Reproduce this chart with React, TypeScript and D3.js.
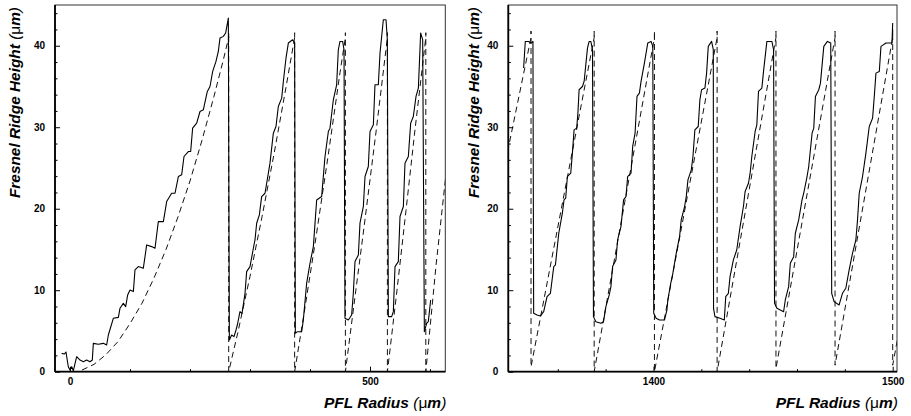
import * as d3 from "d3";
import { useEffect, useRef } from "react";

const leftMeasured: [number, number][] = [
  [-13.9, 2.25], [-9.4, 2.17], [-6.7, 2.42], [-2.8, 0.61], [0, 0.2], [2.8, 0.61], [5.6, 0.12],
  [11.1, 1.84], [16.7, 1.43], [22.2, 1.23], [27.8, 1.43], [33.3, 1.23], [37.2, 1.43], [38.9, 3.48],
  [47.2, 3.36], [55.6, 3.48], [61.1, 3.28], [63.9, 4.5], [72.2, 6.55], [80.6, 6.67], [83.3, 7.78],
  [88.9, 8.39], [92.8, 7.98], [96.1, 9.42], [100, 10.03], [105.6, 9.83], [108.3, 12.49], [113.9, 12.9],
  [122.2, 12.69], [127.8, 15.56], [136.1, 15.35], [141.7, 15.15], [147.2, 18.42], [155.6, 18.42],
  [161.1, 20.88], [169.4, 21.9], [175, 21.9], [180.6, 23.95], [186.1, 24.16], [190, 26.41],
  [197.2, 27.02], [201.1, 27.02], [204.4, 29.89], [211.1, 30.5], [216.7, 31.93], [222.2, 32.14],
  [228.9, 34.39], [233.3, 35.0], [237.8, 36.85], [243.3, 38.08], [247.2, 39.3], [250, 40.94],
  [255.6, 41.15], [259.4, 41.56], [263.9, 43.4], [265.6, 3.89],
  [269.4, 4.5], [273.3, 4.3], [276.7, 5.12], [278.9, 5.73], [283.3, 7.37], [286.7, 7.16], [291.7, 9.62],
  [294.4, 12.28], [300, 12.9], [305.6, 15.15], [308.3, 16.17], [311.1, 18.22], [315.6, 19.24],
  [319.4, 21.49], [325, 21.9], [330.6, 24.36], [333.3, 25.59], [338.9, 29.27], [343.3, 30.09],
  [347.2, 32.55], [352.8, 33.57], [355.6, 35.62], [360, 38.49], [363.9, 40.33], [371.1, 40.74],
  [374.4, 40.33], [375.6, 4.71],
  [378.9, 4.91], [386.1, 4.91], [388.9, 6.35], [394.4, 10.85], [400, 13.31], [405.6, 15.35],
  [411.1, 21.08], [419.4, 21.49], [425, 26.41], [430.6, 29.48], [433.3, 29.89], [438.9, 33.37],
  [444.4, 35.21], [447.2, 39.51], [450, 40.53], [454.4, 40.53], [456.7, 39.51], [458.3, 6.55],
  [463.9, 6.35], [469.4, 6.96], [472.2, 9.62], [475, 13.51], [480.6, 14.33], [483.3, 18.22],
  [488.9, 20.27], [491.7, 23.95], [497.2, 25.18], [500, 29.48], [505.6, 30.3], [508.3, 35.21],
  [513.9, 35.21], [516.7, 39.1], [522.2, 43.19], [526.7, 43.19], [528.9, 40.74], [530.6, 6.76],
  [536.1, 6.76], [538.9, 7.37], [541.7, 12.9], [547.2, 13.51], [550, 19.04], [555.6, 20.27],
  [558.3, 25.59], [563.9, 26.41], [567.8, 30.5], [572.2, 31.32], [576.7, 33.78], [580.6, 34.8],
  [584.4, 41.56], [587.8, 40.74], [590.6, 4.91], [594.4, 5.94], [597.2, 6.14], [601.1, 8.8],
];

// design profile (dashed)
const leftDesign: [number, number][] = [
  [20, 0.2], [40, 0.9], [60, 2.1], [80, 3.7], [100, 5.9], [120, 8.4], [140, 11.5], [160, 15.0],
  [180, 19.0], [200, 23.4], [220, 28.4], [240, 33.8], [255, 38.1], [264.5, 41.0], [264.5, 41.6], [264.5, 0],
  [280, 4.9], [300, 11.7], [320, 19.0], [340, 26.7], [360, 34.9], [374.4, 41.0], [374.4, 41.6], [374.4, 0],
  [390, 7.1], [410, 16.5], [430, 26.4], [450, 36.7], [459, 41.0], [459, 41.6], [459, 0],
  [475, 9.2], [490, 17.7], [510, 29.4], [529, 41.0], [529, 41.6], [529, 0],
  [545, 10.0], [560, 19.8], [575, 29.7], [593, 41.0], [593, 41.6], [593, 0],
  [610, 13.0], [626, 23.8],
];

const rightMeasured: [number, number][] = [
  [1345.7, 37.26], [1346.4, 40.53], [1347.8, 40.53], [1348.8, 40.33], [1349.6, 40.53], [1349.9, 7.16],
  [1351.3, 6.96], [1352.7, 6.84], [1354.1, 7.37], [1355.5, 9.21], [1356.9, 9.62], [1357.6, 11.26],
  [1358.3, 12.9], [1359.0, 13.1], [1360.4, 16.99], [1361.9, 19.45], [1362.6, 21.08], [1363.3, 21.29],
  [1364.0, 23.95], [1365.4, 24.36], [1366.1, 26.82], [1366.8, 29.68], [1367.9, 29.89], [1368.4, 31.73],
  [1368.9, 34.6], [1370.3, 35.0], [1371.0, 35.62], [1371.7, 37.67], [1372.4, 39.71], [1373.1, 40.53],
  [1373.8, 40.53], [1374.5, 39.51], [1374.9, 6.76],
  [1375.9, 6.14], [1378.0, 5.94], [1379.1, 6.14], [1380.1, 7.98], [1381.5, 9.42], [1382.2, 10.44],
  [1382.9, 12.9], [1384.3, 13.72], [1385.0, 16.17], [1386.4, 17.81], [1387.5, 21.08], [1388.5, 21.49],
  [1389.2, 23.95], [1390.6, 24.36], [1391.3, 27.64], [1392.3, 29.27], [1393.1, 33.78], [1394.1, 34.19],
  [1394.8, 35.62], [1396.2, 37.87], [1397.6, 40.33], [1399.0, 40.53], [1399.7, 39.92], [1400.1, 7.16],
  [1401.1, 6.55], [1402.5, 6.35], [1404.6, 6.35], [1405.6, 7.57], [1406.0, 8.8], [1407.2, 10.85],
  [1408.1, 12.08], [1409.5, 14.53], [1410.9, 16.58], [1411.6, 18.63], [1413.0, 20.27], [1413.7, 21.49],
  [1414.4, 23.54], [1415.8, 24.77], [1416.5, 26.41], [1417.3, 29.68], [1418.7, 30.09], [1419.4, 33.37],
  [1420.1, 34.6], [1421.5, 34.8], [1422.2, 36.64], [1422.9, 39.92], [1424.3, 40.53], [1425.0, 39.51],
  [1425.1, 7.78],
  [1425.7, 6.76], [1427.8, 6.55], [1429.6, 6.35], [1430.2, 9.21], [1431.3, 9.62], [1432.0, 11.67],
  [1433.4, 13.72], [1434.8, 14.94], [1436.2, 17.81], [1437.6, 20.27], [1438.3, 22.11], [1439.7, 23.13],
  [1440.4, 24.36], [1441.1, 26.41], [1442.5, 29.48], [1443.2, 30.3], [1443.9, 34.39], [1445.3, 34.8],
  [1446.0, 36.85], [1447.4, 40.53], [1449.5, 40.53], [1450.2, 39.51], [1450.6, 8.39],
  [1451.6, 7.78], [1454.4, 7.37], [1455.1, 8.8], [1456.5, 10.44], [1457.2, 13.31], [1458.6, 14.12],
  [1459.3, 16.99], [1460.7, 18.63], [1462.1, 21.08], [1462.8, 21.9], [1464.2, 23.95], [1464.9, 25.18],
  [1466.3, 29.27], [1467.0, 29.89], [1467.7, 33.78], [1469.1, 34.6], [1469.8, 35.41], [1471.2, 39.92],
  [1472.7, 40.53], [1474.1, 40.33], [1474.5, 9.62],
  [1475.5, 8.6], [1477.6, 8.19], [1479.0, 9.62], [1480.4, 10.24], [1481.8, 12.49], [1483.2, 14.53],
  [1484.6, 16.17], [1485.3, 18.63], [1486.0, 21.9], [1487.4, 23.95], [1488.8, 26.82], [1490.2, 30.09],
  [1491.6, 31.12], [1492.3, 33.78], [1493.0, 36.64], [1494.4, 36.85], [1495.1, 39.92], [1497.2, 40.33],
  [1499.7, 40.33], [1500.0, 42.78],
];

const rightDesign: [number, number][] = [
  [1339.0, 27.0], [1348.8, 41.0], [1348.8, 41.8], [1348.8, 0.6],
  [1375.2, 41.0], [1375.2, 41.8], [1375.2, 0],
  [1400.4, 41.0], [1400.4, 41.8], [1400.4, 0],
  [1426.6, 41.0], [1426.6, 41.8], [1426.6, 0],
  [1451.2, 41.0], [1451.2, 41.8], [1451.2, 0.4],
  [1475.9, 41.0], [1475.9, 41.8], [1475.9, 0.8],
  [1500.0, 41.0], [1500.0, 42.0], [1500.0, 0.8], [1502.0, 4.0],
];

const yMajorTicks = [0, 10, 20, 30, 40];
const yMinorTicks = d3.range(2, 45, 2).filter((v) => v % 10 !== 0);
const leftMajorTicks = [0, 500];
const leftMinorTicks = [100, 200, 300, 400, 600];
const rightMajorTicks = [1400, 1500];
const rightMinorTicks = [1360, 1380, 1420, 1440, 1460, 1480];

const FONT = "'Liberation Sans', Arial, Helvetica, sans-serif";
const top = 5;
const bottom = 371.7;

const Panel = ({ id, measured, design, xDomain, xRange, majorTicks, minorTicks, yTitleX }) => {
  const gRef = useRef(null);

  useEffect(() => {
    const g = d3.select(gRef.current);
    g.selectAll("*").remove();

    const x = d3.scaleLinear().domain(xDomain).range(xRange);
    const y = d3.scaleLinear().domain([0, 45]).range([bottom, top]);

    g.append("clipPath")
      .attr("id", `clip-${id}`)
      .append("rect")
      .attr("x", xRange[0])
      .attr("y", top)
      .attr("width", xRange[1] - xRange[0])
      .attr("height", bottom - top);

    const line = d3
      .line()
      .x((d) => x(d[0]))
      .y((d) => y(d[1]));

    const plot = g.append("g").attr("clip-path", `url(#clip-${id})`);
    plot
      .append("path")
      .datum(design)
      .attr("d", line)
      .attr("fill", "none")
      .attr("stroke", "#111")
      .attr("stroke-width", 1)
      .attr("stroke-dasharray", "6,4");
    plot
      .append("path")
      .datum(measured)
      .attr("d", line)
      .attr("fill", "none")
      .attr("stroke", "#000")
      .attr("stroke-width", 1.1)
      .attr("stroke-linejoin", "round");

    // frame
    g.append("rect")
      .attr("x", xRange[0])
      .attr("y", top)
      .attr("width", xRange[1] - xRange[0])
      .attr("height", bottom - top)
      .attr("fill", "none")
      .attr("stroke", "#333")
      .attr("stroke-width", 1);

    const styleAxis = (sel) => {
      sel.select(".domain").remove();
      sel.selectAll("line").attr("stroke", "#000").attr("stroke-width", 1);
      sel
        .selectAll("text")
        .attr("fill", "#000")
        .style("font-family", FONT)
        .style("font-size", "10px")
        .style("font-weight", "bold");
    };

    const fmt = d3.format("d");

    // y axis, ticks inward
    g.append("g")
      .attr("transform", `translate(${xRange[0]},0)`)
      .call(d3.axisLeft(y).tickValues(yMajorTicks).tickFormat(fmt).tickSize(-5).tickPadding(10))
      .call(styleAxis);
    g.append("g")
      .attr("transform", `translate(${xRange[0]},0)`)
      .call(d3.axisLeft(y).tickValues(yMinorTicks).tickSize(-2.5).tickFormat(() => ""))
      .call(styleAxis);

    // x axis
    g.append("g")
      .attr("transform", `translate(0,${bottom})`)
      .call(d3.axisBottom(x).tickValues(majorTicks).tickFormat(fmt).tickSize(-5).tickPadding(6))
      .call(styleAxis);
    g.append("g")
      .attr("transform", `translate(0,${bottom})`)
      .call(d3.axisBottom(x).tickValues(minorTicks).tickSize(-2.5).tickFormat(() => ""))
      .call(styleAxis);

    // heavier left and bottom axis lines
    g.append("line")
      .attr("x1", xRange[0])
      .attr("x2", xRange[0])
      .attr("y1", top)
      .attr("y2", bottom)
      .attr("stroke", "#000")
      .attr("stroke-width", 1.8);
    g.append("line")
      .attr("x1", xRange[0])
      .attr("x2", xRange[1])
      .attr("y1", bottom)
      .attr("y2", bottom)
      .attr("stroke", "#000")
      .attr("stroke-width", 1.8);
  }, [id, measured, design, xDomain, xRange, majorTicks, minorTicks]);

  return (
    <g>
      <g ref={gRef} />
      <text
        transform={`translate(${yTitleX},7) rotate(-90)`}
        textAnchor="end"
        fontFamily={FONT}
        fontSize="15.4px"
        fontStyle="italic"
        fontWeight="bold"
      >
        Fresnel Ridge Height{" "}
        <tspan fontWeight="normal">(</tspan>
        <tspan fontWeight="normal" fontStyle="normal">μ</tspan>
        m<tspan fontWeight="normal">)</tspan>
      </text>
      <text
        x={xRange[1] + 1}
        y={408}
        textAnchor="end"
        fontFamily={FONT}
        fontSize="15.5px"
        fontStyle="italic"
        fontWeight="bold"
      >
        PFL Radius <tspan fontWeight="normal">(</tspan>
        <tspan fontWeight="normal" fontStyle="normal">μ</tspan>
        m<tspan fontWeight="normal">)</tspan>
      </text>
    </g>
  );
};

const App = () => {
  return (
    <svg
      width={911}
      height={416}
      style={{ position: "absolute", left: 0, top: 0, background: "#fff" }}
    >
      <rect width={911} height={416} fill="#fff" />
      <Panel
        id="left"
        measured={leftMeasured}
        design={leftDesign}
        xDomain={[-25, 625.5]}
        xRange={[55, 445.3]}
        majorTicks={leftMajorTicks}
        minorTicks={leftMinorTicks}
        yTitleX={20}
      />
      <Panel
        id="right"
        measured={rightMeasured}
        design={rightDesign}
        xDomain={[1339.3, 1501.8]}
        xRange={[508.3, 897]}
        majorTicks={rightMajorTicks}
        minorTicks={rightMinorTicks}
        yTitleX={479}
      />
    </svg>
  );
};

export default App;
